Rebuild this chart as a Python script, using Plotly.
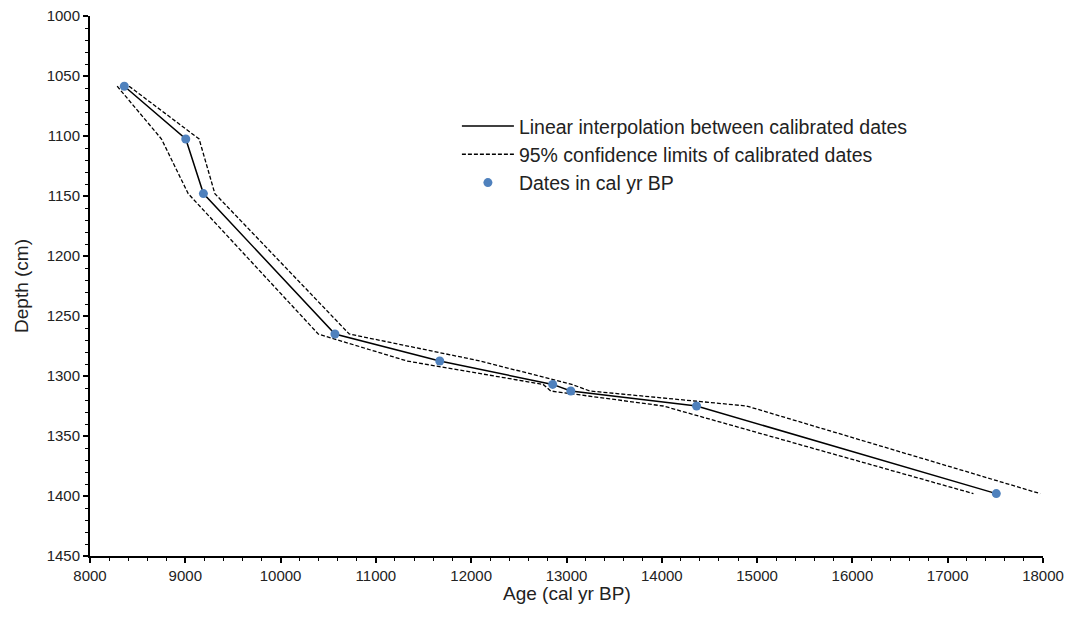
import plotly.graph_objects as go

# Data
depth_cm = [1058.5, 1102.5, 1148, 1265, 1287.5, 1307, 1312.5, 1325, 1398]
age_cal_bp = [8360, 9005, 9190, 10570, 11670, 12855, 13045, 14365, 17510]
age_min_95 = [8285, 8750, 9030, 10395, 11325, 12755, 12835, 14015, 17270]
age_max_95 = [8410, 9145, 9310, 10720, 12095, 13055, 13245, 14890, 17970]

x_ticks = [8000, 9000, 10000, 11000, 12000, 13000, 14000, 15000, 16000, 17000, 18000]
y_ticks = [1000, 1050, 1100, 1150, 1200, 1250, 1300, 1350, 1400, 1450]

FONT = "Arial, 'Liberation Sans', sans-serif"
BLUE = "#4F81BD"
TXT = "#222222"

fig = go.Figure()

fig.add_trace(go.Scatter(
    x=age_cal_bp, y=depth_cm, mode="lines",
    line=dict(color="black", width=1.5),
    name="Linear interpolation between calibrated dates",
))
fig.add_trace(go.Scatter(
    x=age_max_95, y=depth_cm, mode="lines",
    line=dict(color="black", width=1.3, dash="4px,2px"),
    name="95% confidence limits of calibrated dates",
    legendgroup="ci",
))
fig.add_trace(go.Scatter(
    x=age_min_95, y=depth_cm, mode="lines",
    line=dict(color="black", width=1.3, dash="4px,2px"),
    name="95% confidence limits of calibrated dates",
    legendgroup="ci", showlegend=False,
))
fig.add_trace(go.Scatter(
    x=age_cal_bp, y=depth_cm, mode="markers",
    marker=dict(color=BLUE, size=9),
    name="Dates in cal yr BP",
))

axis_common = dict(
    showgrid=False, zeroline=False, automargin=False,
    showline=True, linecolor="black", linewidth=2,
    ticks="outside", ticklen=5, tickwidth=1.5, tickcolor="black",
    tickfont=dict(family=FONT, size=15, color=TXT),
    mirror=False,
)

fig.update_xaxes(
    range=[8000, 18000], tickvals=x_ticks, ticktext=[str(v) for v in x_ticks],
    minor=dict(dtick=200, ticks="outside", ticklen=3, tickcolor="black", tickwidth=1),
    **axis_common,
)
fig.update_yaxes(
    range=[1450, 1000], tickvals=y_ticks, ticktext=[str(v) for v in y_ticks],
    minor=dict(dtick=10, ticks="outside", ticklen=3, tickcolor="black", tickwidth=1),
    title=dict(text="Depth (cm)", font=dict(family=FONT, size=19, color=TXT), standoff=13),
    **axis_common,
)

fig.add_annotation(
    text="Age (cal yr BP)", xref="paper", yref="paper",
    x=0.5, y=-0.07, xanchor="center", yanchor="middle", showarrow=False,
    font=dict(family=FONT, size=19, color=TXT),
)

fig.update_layout(
    width=1069, height=618,
    margin=dict(l=90, r=26, t=16, b=62),
    plot_bgcolor="white", paper_bgcolor="white",
    font=dict(family=FONT, color=TXT),
    legend=dict(
        x=0.385, y=0.832, xanchor="left", yanchor="top",
        font=dict(family=FONT, size=19.5, color=TXT),
        bgcolor="rgba(0,0,0,0)", itemwidth=52, tracegroupgap=0,
    ),
    showlegend=True,
)

fig.write_html(
    "out.html",
    config={"displayModeBar": False},
    post_script="document.body.style.margin='0';document.body.style.overflow='hidden';",
)
